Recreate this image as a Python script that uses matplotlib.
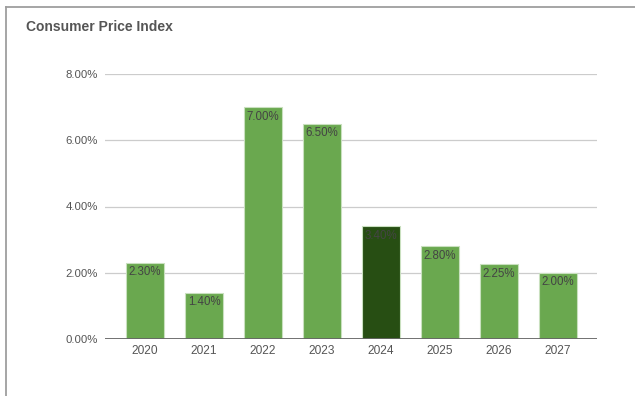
import matplotlib
matplotlib.use("Agg")
import matplotlib.pyplot as plt
from matplotlib.lines import Line2D

plt.rcParams['font.family'] = ['Liberation Sans', 'DejaVu Sans']

years = ["2020", "2021", "2022", "2023", "2024", "2025", "2026", "2027"]
cpi = [2.30, 1.40, 7.00, 6.50, 3.40, 2.80, 2.25, 2.00]
highlight_year = "2024"
y_ticks = [0, 2, 4, 6, 8]

green = "#6aa84f"
dark_green = "#274e13"

fig = plt.figure(figsize=(6.35, 3.96), dpi=100)
ax = fig.add_axes([105 / 635, 1 - 339 / 396, 492 / 635, 265 / 396])

x = list(range(len(years)))
colors = [dark_green if y == highlight_year else green for y in years]
bars = ax.bar(x, cpi, width=0.65, color=colors, edgecolor="#c9e0bf",
              linewidth=0.8, zorder=3)

for rect, v in zip(bars, cpi):
    ax.annotate(f"{v:.2f}%", (rect.get_x() + rect.get_width() / 2, v),
                xytext=(0, -2.5), textcoords="offset points",
                ha="center", va="top", fontsize=8.3, color="#444444", zorder=4)

ax.set_xlim(-0.68, 7.66)
ax.set_ylim(0, 8)
ax.set_yticks(y_ticks)
ax.set_yticklabels([f"{t:.2f}%" for t in y_ticks])
ax.set_xticks(x)
ax.set_xticklabels(years)

ax.grid(axis="y", color="#cccccc", linewidth=0.9, zorder=0)
ax.axhline(0, color="#666666", linewidth=1.3, zorder=5)
for s in ax.spines.values():
    s.set_visible(False)
ax.tick_params(axis="y", length=0, pad=5, labelsize=8.2, labelcolor="#555555")
ax.tick_params(axis="x", length=0, pad=4, labelsize=8.6, labelcolor="#555555")

fig.text(26 / 635, 1 - 27 / 396, "Consumer Price Index", fontsize=10,
         fontweight="bold", color="#555555", ha="left", va="center")

# outer frame: top and left edges
fig.add_artist(Line2D([6 / 635, 1], [1 - 7 / 396, 1 - 7 / 396],
                      transform=fig.transFigure, color="#9e9e9e", linewidth=1.3))
fig.add_artist(Line2D([6 / 635, 6 / 635], [0, 1 - 7 / 396],
                      transform=fig.transFigure, color="#9e9e9e", linewidth=1.3))

fig.savefig("out.png", dpi=100)
